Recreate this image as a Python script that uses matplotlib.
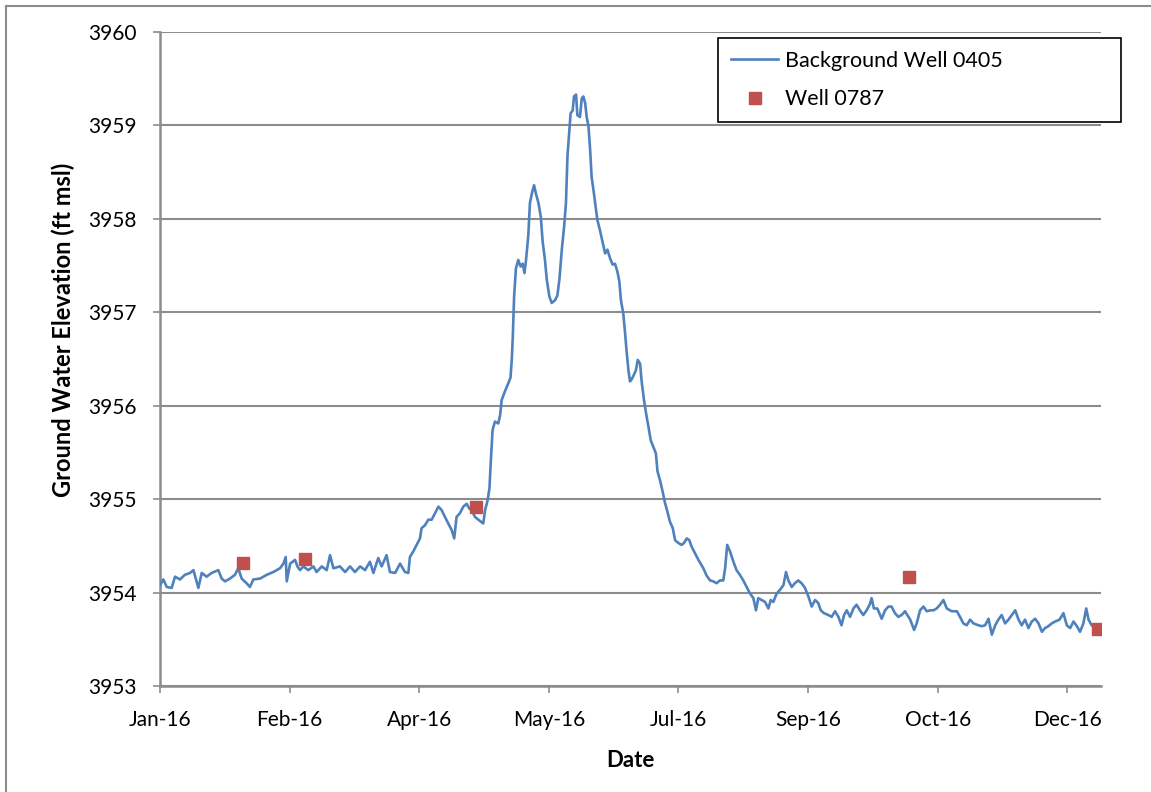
import numpy as np
import matplotlib
matplotlib.use("Agg")
import matplotlib.pyplot as plt
import matplotlib.dates as mdates
from matplotlib.lines import Line2D

# background well 0405, days since 1 Jan 2016 and elevation (ft msl)
bg_days = [0.0, 1.3, 2.6, 4.5, 5.8, 7.7, 9.6, 11.6, 12.9, 14.8, 16.1, 18.0, 19.9, 22.5, 23.8,
           25.1, 27.0, 28.9, 30.2, 31.5, 33.4, 34.7, 36.0, 38.6, 41.2, 43.7, 46.3, 47.6, 48.5,
           48.9, 50.2, 52.1, 53.0, 54.0, 55.3, 57.2, 59.2, 60.4, 62.4, 64.3, 65.6, 66.9, 69.4,
           71.4, 73.3, 75.2, 77.2, 79.1, 81.0, 82.3, 84.2, 85.5, 87.4, 88.7, 90.7, 92.6, 94.5,
           95.8, 96.4, 97.7, 99.0, 100.3, 100.9, 102.2, 103.5, 104.8, 106.1, 107.4, 108.7,
           109.9, 111.2, 112.5, 113.5, 114.4, 115.7, 117.0, 118.3, 119.3, 120.2, 121.5, 122.8,
           124.7, 125.4, 126.4, 127.1, 127.6, 128.3, 129.2, 130.5, 131.2, 131.8, 133.0, 134.5,
           135.2, 135.7, 136.1, 136.6, 137.3, 138.2, 139.1, 139.9, 140.6, 141.2, 142.1, 142.7,
           143.6, 144.3, 145.1, 146.0, 146.9, 147.6, 148.5, 149.2, 150.2, 151.1, 152.4, 153.3,
           154.1, 155.0, 155.9, 156.6, 157.2, 157.9, 158.4, 159.2, 159.7, 160.5, 161.0, 162.0,
           162.7, 163.3, 164.0, 164.6, 165.3, 165.9, 166.5, 167.4, 168.7, 169.7, 170.8, 171.7,
           172.6, 173.6, 174.6, 175.5, 176.4, 177.2, 177.8, 178.7, 179.4, 180.0, 180.7, 181.3,
           181.9, 182.8, 183.6, 184.3, 185.2, 185.8, 186.7, 187.5, 188.4, 189.3, 190.3, 191.3,
           191.9, 192.9, 193.9, 194.8, 195.7, 196.7, 197.8, 198.7, 200.0, 201.2, 202.1, 203.2,
           204.2, 205.1, 206.4, 207.7, 209.6, 210.9, 212.2, 213.4, 214.7, 216.0, 217.3, 218.0,
           218.8, 219.9, 221.2, 222.4, 223.7, 225.0, 226.3, 227.6, 228.9, 229.9, 230.8, 232.1,
           233.4, 234.7, 235.6, 236.6, 237.9, 239.2, 240.5, 241.5, 242.4, 243.7, 244.9, 246.2,
           247.5, 248.8, 250.1, 251.4, 252.7, 253.9, 254.9, 256.1, 257.8, 259.1, 260.4, 261.7,
           262.9, 263.9, 264.9, 266.2, 267.5, 268.7, 270.0, 271.3, 272.6, 273.9, 274.5, 275.4,
           276.7, 278.4, 279.7, 281.0, 282.2, 283.5, 284.8, 286.1, 287.4, 289.4, 290.9, 291.9,
           293.2, 294.5, 295.8, 297.1, 298.4, 299.6, 300.9, 302.2, 303.5, 305.4, 307.4, 308.6,
           309.9, 311.2, 312.5, 313.8, 315.7, 317.0, 318.3, 319.6, 320.9, 322.2, 323.4, 324.7,
           326.0, 327.3, 328.6, 329.9, 331.2, 332.4, 333.7, 335.0, 336.3, 337.6, 338.9, 340.2,
           341.4, 342.7, 344.0, 345.3, 347.0, 348.5, 349.8, 351.1, 352.4, 353.7, 354.9, 356.2,
           357.3, 358.2, 359.4, 360.7, 362.0]
bg_elev = [3954.08, 3954.14, 3954.06, 3954.05, 3954.17, 3954.14, 3954.19, 3954.21, 3954.24,
           3954.05, 3954.21, 3954.17, 3954.21, 3954.24, 3954.15, 3954.12, 3954.15, 3954.19,
           3954.26, 3954.15, 3954.10, 3954.06, 3954.14, 3954.15, 3954.19, 3954.22, 3954.26,
           3954.31, 3954.38, 3954.12, 3954.31, 3954.35, 3954.28, 3954.24, 3954.28, 3954.24,
           3954.28, 3954.22, 3954.28, 3954.24, 3954.40, 3954.26, 3954.28, 3954.22, 3954.28,
           3954.22, 3954.28, 3954.24, 3954.33, 3954.21, 3954.37, 3954.28, 3954.40, 3954.22,
           3954.21, 3954.31, 3954.22, 3954.21, 3954.38, 3954.44, 3954.51, 3954.58, 3954.69,
           3954.72, 3954.78, 3954.78, 3954.85, 3954.92, 3954.88, 3954.81, 3954.74, 3954.67,
           3954.58, 3954.81, 3954.85, 3954.92, 3954.95, 3954.90, 3954.88, 3954.81, 3954.78,
           3954.74, 3954.88, 3954.99, 3955.12, 3955.40, 3955.74, 3955.83, 3955.81, 3955.90,
           3956.06, 3956.15, 3956.25, 3956.30, 3956.49, 3956.74, 3957.17, 3957.47, 3957.56,
           3957.49, 3957.52, 3957.42, 3957.56, 3957.83, 3958.17, 3958.29, 3958.36, 3958.26,
           3958.17, 3958.02, 3957.76, 3957.56, 3957.35, 3957.17, 3957.10, 3957.13, 3957.18,
           3957.36, 3957.67, 3957.92, 3958.17, 3958.68, 3958.95, 3959.13, 3959.16, 3959.31,
           3959.33, 3959.11, 3959.09, 3959.29, 3959.31, 3959.24, 3959.09, 3958.99, 3958.75,
           3958.45, 3958.27, 3957.99, 3957.88, 3957.74, 3957.63, 3957.67, 3957.58, 3957.51,
           3957.52, 3957.44, 3957.33, 3957.13, 3956.99, 3956.78, 3956.58, 3956.38, 3956.26,
           3956.28, 3956.33, 3956.38, 3956.49, 3956.45, 3956.26, 3956.06, 3955.92, 3955.78,
           3955.63, 3955.56, 3955.49, 3955.30, 3955.20, 3955.08, 3954.96, 3954.87, 3954.76,
           3954.69, 3954.56, 3954.53, 3954.51, 3954.53, 3954.58, 3954.56, 3954.49, 3954.42,
           3954.35, 3954.26, 3954.18, 3954.13, 3954.12, 3954.10, 3954.13, 3954.13, 3954.26,
           3954.51, 3954.44, 3954.33, 3954.24, 3954.19, 3954.13, 3954.06, 3953.99, 3953.94,
           3953.81, 3953.94, 3953.92, 3953.90, 3953.83, 3953.92, 3953.90, 3953.99, 3954.03,
           3954.08, 3954.22, 3954.13, 3954.06, 3954.10, 3954.13, 3954.10, 3954.05, 3953.96,
           3953.85, 3953.92, 3953.89, 3953.81, 3953.78, 3953.76, 3953.74, 3953.80, 3953.74,
           3953.65, 3953.76, 3953.81, 3953.74, 3953.83, 3953.87, 3953.81, 3953.76, 3953.81,
           3953.88, 3953.94, 3953.83, 3953.83, 3953.72, 3953.81, 3953.85, 3953.85, 3953.78,
           3953.74, 3953.76, 3953.80, 3953.71, 3953.60, 3953.67, 3953.81, 3953.85, 3953.80,
           3953.81, 3953.81, 3953.83, 3953.87, 3953.92, 3953.83, 3953.80, 3953.80, 3953.74,
           3953.67, 3953.65, 3953.71, 3953.67, 3953.65, 3953.64, 3953.65, 3953.72, 3953.55,
           3953.65, 3953.71, 3953.76, 3953.67, 3953.71, 3953.76, 3953.81, 3953.71, 3953.65,
           3953.71, 3953.62, 3953.69, 3953.72, 3953.67, 3953.58, 3953.62, 3953.64, 3953.67,
           3953.69, 3953.71, 3953.78, 3953.65, 3953.62, 3953.69, 3953.64, 3953.58, 3953.67,
           3953.83, 3953.71, 3953.65, 3953.62, 3953.56]

# well 0787 measurements
well_dates = ["2016-02-02", "2016-02-26", "2016-05-02", "2016-10-16", "2016-12-28"]
well_elev = [3954.32, 3954.36, 3954.92, 3954.17, 3953.61]

start = np.datetime64("2016-01-01T00:00")
bg_time = start + np.round(np.array(bg_days) * 1440).astype("timedelta64[m]")
well_time = np.array(well_dates, dtype="datetime64[D]")

plt.rcParams["font.family"] = ["Lato", "DejaVu Sans"]

fig = plt.figure(figsize=(11.51, 7.92), dpi=100)
ax = fig.add_axes([160 / 1151, 1 - 686 / 792, 941 / 1151, 654 / 792])

ax.plot(bg_time, bg_elev, color="#4F81BD", lw=1.9, label="Background Well 0405", zorder=3)
ax.plot(well_time, well_elev, ls="none", marker="s", ms=9, color="#C0504D",
        label="Well 0787", zorder=4)

ax.set_ylim(3953, 3960)
ax.set_yticks(np.arange(3953, 3961, 1))
ax.set_xlim(start, start + np.timedelta64(363, "D"))
ax.set_xticks([start + np.timedelta64(50 * k, "D") for k in range(8)])
ax.xaxis.set_major_formatter(mdates.DateFormatter("%b-%y"))

ax.grid(axis="y", color="#8C8C8C", lw=1.5)
ax.set_axisbelow(True)
for s in ["top", "right"]:
    ax.spines[s].set_visible(False)
for s in ["left", "bottom"]:
    ax.spines[s].set_color("#8C8C8C")
    ax.spines[s].set_linewidth(1.8)
ax.tick_params(direction="out", length=5, width=1.2, color="#8C8C8C",
               labelsize=15, pad=12)

ax.set_xlabel("Date", fontsize=16, fontweight="bold", labelpad=15)
ax.set_ylabel("Ground Water Elevation (ft msl)", fontsize=17, fontweight="bold")
ax.yaxis.set_label_coords(-0.090, 0.544)

# legend box stretched to the full frame width
leg = ax.legend(loc="upper left",
                bbox_to_anchor=(718 / 1151, 1 - 121 / 792, 403 / 1151, 83 / 792),
                bbox_transform=fig.transFigure, mode="expand", borderaxespad=0,
                fontsize=15.5, frameon=True, fancybox=False, edgecolor="black",
                framealpha=1, handlelength=2.2, handletextpad=0.3,
                labelspacing=0.85, borderpad=0.6, numpoints=1)
leg.get_frame().set_linewidth(1.2)

# thin border round the chart area
fig.add_artist(Line2D([6 / 1151, 6 / 1151], [0, 1 - 6 / 792], transform=fig.transFigure,
                      color="#8C8C8C", lw=1.5))
fig.add_artist(Line2D([6 / 1151, 1], [1 - 6 / 792, 1 - 6 / 792], transform=fig.transFigure,
                      color="#8C8C8C", lw=1.5))

fig.savefig("out.png", dpi=100)
